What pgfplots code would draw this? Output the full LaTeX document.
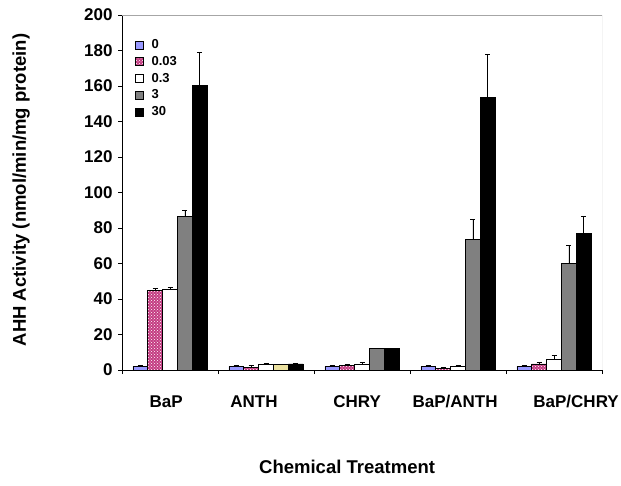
\documentclass[border=0pt]{standalone}
\usepackage{fontspec}
\setmainfont{Liberation Sans}
\usepackage{pgfplots}
\pgfplotsset{compat=1.18}
\usetikzlibrary{patterns}
\definecolor{lav}{RGB}{153,153,255}
\definecolor{plum}{RGB}{196,60,130}
\definecolor{khaki}{RGB}{235,225,160}
\definecolor{midgray}{RGB}{128,128,128}
\begin{document}
\begin{tikzpicture}[x=1pt,y=1pt]
\path[use as bounding box] (0,0) rectangle (621,485);
\begin{axis}[
  at={(122pt,115pt)}, anchor=south west,
  width=480pt, height=355pt, scale only axis,
  xmin=-0.5, xmax=4.5, ymin=0, ymax=200,
  axis x line*=bottom, axis y line*=left,
  axis line style={black, line width=0.8pt},
  ytick={0,20,...,200},
  xtick={-0.04,0.875,1.95,2.97,4.23},
  xticklabels={BaP,ANTH,CHRY,BaP/ANTH,BaP/CHRY},
  minor xtick={-0.5,0.5,1.5,2.5,3.5,4.5},
  major x tick style={draw=none},
  tick align=outside,
  major tick length=4pt, minor tick length=4pt,
  tick style={black, line width=0.6pt},
  /pgf/number format/assume math mode=true,
  ticklabel style={font=\bfseries\fontsize{17}{18}\selectfont},
  xticklabel style={yshift=-18pt},
  yticklabel style={xshift=-2pt},
  xlabel={Chemical Treatment},
  ylabel={AHH Activity (nmol/min/mg protein)},
  label style={font=\bfseries\fontsize{18.5}{20}\selectfont},
  xlabel style={at={(axis description cs:0.469,-0.273)}, anchor=center},
  ylabel style={at={(axis description cs:-0.21,0.507)}, anchor=center},
  ybar, bar width=0.155, bar shift=0pt,
  every axis plot/.append style={draw=black, line width=0.5pt},
  error bars/error bar style={black, line width=0.6pt},
  error bars/error mark options={black, rotate=90, mark size=2.5pt, line width=0.9pt},
  legend style={draw=none, fill=none, inner sep=0pt, at={(axis description cs:0.027,0.937)}, anchor=north west,
    font=\bfseries\fontsize{13}{14}\selectfont, row sep=2.2pt,
    /tikz/every odd column/.style={column sep=6pt}},
  legend cell align=left,
  legend image code/.code={\draw[#1, line width=0.5pt] (0pt,-4pt) rectangle (8pt,4pt);},
]
\addplot[fill=lav, error bars/.cd, y dir=plus, y explicit] coordinates {
  (-0.31,2) +- (0,0.8) (0.69,2) +- (0,0.8) (1.69,2) +- (0,0.6) (2.69,2) +- (0,0.8) (3.69,2) +- (0,0.8)};
\addlegendentry{0}
\addplot[fill=plum, postaction={pattern=crosshatch dots, pattern color=white}, error bars/.cd, y dir=plus, y explicit] coordinates {
  (-0.155,45) +- (0,0.8) (0.845,1.5) +- (0,1) (1.845,2.5) +- (0,0.5) (2.845,1) +- (0,0.5) (3.845,3.5) +- (0,0.8)};
\addlegendentry{0.03}
\addplot[fill=white, error bars/.cd, y dir=plus, y explicit] coordinates {
  (0,45.5) +- (0,0.8) (1,3.5) +- (0,0) (2,3.5) +- (0,1) (3,2) +- (0,0.3) (4,6) +- (0,2.2)};
\addlegendentry{0.3}
\addplot[fill=midgray, error bars/.cd, y dir=plus, y explicit] coordinates {
  (0.155,86.5) +- (0,3.5) (2.155,12) +- (0,0) (3.155,73.5) +- (0,11.5) (4.155,60) +- (0,10)};
\addlegendentry{3}
\addplot[fill=black, error bars/.cd, y dir=plus, y explicit] coordinates {
  (0.31,160.5) +- (0,18.5) (1.31,3.5) +- (0,0) (2.31,12) +- (0,0) (3.31,153.5) +- (0,24.5) (4.31,77) +- (0,9.5)};
\addlegendentry{30}
\addplot[fill=khaki, forget plot] coordinates {(1.155,3.5)};
\draw[gray!70, line width=0.8pt] (rel axis cs:0,1) -- (rel axis cs:1,1) -- (rel axis cs:1,0);
\end{axis}
\end{tikzpicture}
\end{document}
